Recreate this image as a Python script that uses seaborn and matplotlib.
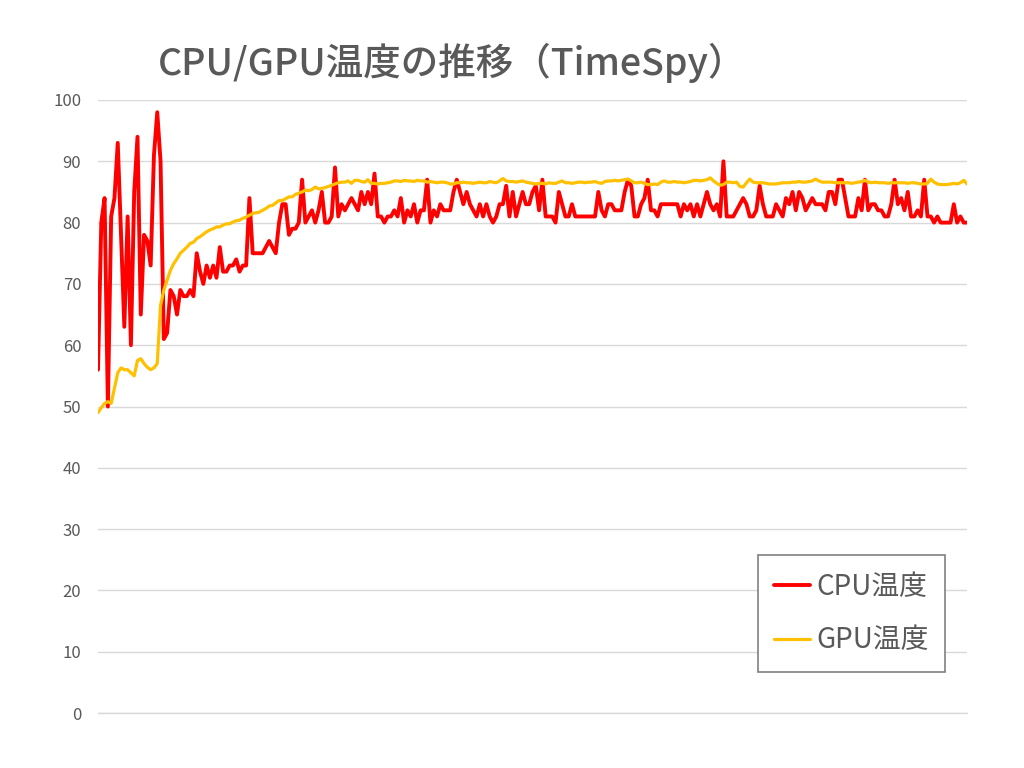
import numpy as np
import pandas as pd
import matplotlib
matplotlib.use("Agg")
import matplotlib.pyplot as plt
import seaborn as sns

# --- дані ---
cpu_temp = [
    56, 80, 84, 50, 81, 84, 93, 78, 63, 81, 60, 85, 94, 65, 78, 77, 73, 91, 98, 90,
    61, 62, 69, 68, 65, 69, 68, 68, 69, 68,
    75, 72, 70, 73, 71, 73, 71, 76, 72, 72,
    73, 73, 74, 72, 73, 73,
    84, 75, 75, 75, 75, 76, 77, 76, 75,
    80, 83, 83, 78, 79, 79, 80,
    87, 80, 81, 82, 80, 82, 85, 80, 80, 81,
    89, 81, 83, 82, 83, 84, 83, 82, 85,
    83, 85, 83, 88, 81, 81, 80, 81, 81, 82,
    81, 84, 80, 82, 81, 83, 80, 82, 82, 87,
    80, 82, 81, 83, 82, 82, 82, 85, 87, 85,
    83, 85, 83, 82, 81, 83, 81, 83, 81, 80,
    81, 83, 83, 86, 81, 85, 81, 83, 85, 83,
    83, 85, 86, 82, 87, 81, 81, 81, 80, 85, 83,
    81, 81, 83, 81, 81, 81, 81, 81, 81, 81,
    85, 82, 81, 83, 83, 82, 82, 82, 85, 87,
    86, 81, 81, 83, 84, 87, 82, 82, 81, 83,
    83, 83, 83, 83, 83, 81, 83, 82, 83, 81,
    83, 81, 83, 85, 83, 82, 83, 81, 90, 81,
    81, 81, 82, 83, 84, 83, 81, 81, 82, 86,
    83, 81, 81, 81, 83, 82, 81, 84, 83, 85,
    82, 85, 84, 82, 83, 84, 83, 83, 83, 82,
    85, 85, 83, 87, 87, 84, 81, 81, 81, 84,
    82, 87, 82, 83, 83, 82, 82, 81, 81, 83,
    87, 83, 84, 82, 85, 81, 81, 82, 81, 87,
    81, 81, 80, 81, 80, 80, 80, 80, 83, 80, 81, 80, 80,
]

gpu_temp = [
    49, 49.8, 50.5, 50.8, 50.5, 53, 55.5, 56.3, 56, 56,
    55.5, 55, 57.5, 57.8, 57, 56.4, 56, 56.3, 57, 66.5,
    69, 70.6, 72.2, 73.3, 74.1, 75, 75.5, 76, 76.6, 76.8,
    77.4, 77.7, 78.1, 78.5, 78.8, 79, 79.3, 79.3, 79.6, 79.8,
    79.8, 80.1, 80.3, 80.4, 80.7, 80.9, 81.2, 81.5, 81.6, 81.7,
    82, 82.3, 82.7, 82.8, 83.2, 83.6, 83.6, 83.9, 84.2, 84.2,
    84.6, 84.8, 85, 85.3, 85.2, 85.4, 85.8, 85.5, 85.6, 85.7,
    85.9, 86.1, 86.3, 86.5, 86.6, 86.6, 86.8, 86.4, 86.9, 86.9, 86.7,
    86.6, 87.0, 86.4, 86.4, 86.3, 86.4, 86.4, 86.5, 86.6, 86.8,
    86.8, 86.7, 86.9, 86.8, 86.8, 86.7, 86.9, 86.8, 86.8, 86.6,
    86.7, 86.6, 86.5, 86.6, 86.6, 86.5, 86.3, 86.3, 86.5, 86.5,
    86.6, 86.5, 86.5, 86.4, 86.5, 86.6, 86.5, 86.5, 86.7, 86.6,
    86.5, 86.8, 87.2, 86.8, 86.7, 86.7, 86.6, 86.7, 86.8, 86.6,
    86.5, 86.4, 86.3, 86.4, 86.4, 86.3, 86.5, 86.4, 86.4, 86.6, 86.8,
    86.5, 86.5, 86.4, 86.5, 86.6, 86.6, 86.5, 86.6, 86.6, 86.7,
    86.5, 86.4, 86.7, 86.8, 86.8, 86.9, 86.8, 86.9, 87.0, 87.1,
    86.8, 86.5, 86.5, 86.6, 86.4, 86.2, 86.2, 86.3, 86.2, 86.6,
    86.8, 86.6, 86.6, 86.7, 86.6, 86.6, 86.5, 86.6, 86.7, 86.9,
    86.9, 86.8, 86.9, 87.0, 87.3, 86.8, 86.4, 86.1, 86.2, 86.6,
    86.6, 86.5, 86.6, 85.9, 85.8, 86.5, 87.1, 86.6, 86.5, 86.5,
    86.5, 86.4, 86.3, 86.3, 86.3, 86.4, 86.5, 86.5, 86.5, 86.6,
    86.6, 86.7, 86.6, 86.6, 86.7, 86.8, 87.1, 86.8, 86.6, 86.6,
    86.6, 86.6, 86.5, 86.5, 86.5, 86.5, 86.5, 86.4, 86.5, 86.6,
    86.7, 86.9, 86.6, 86.5, 86.6, 86.5, 86.5, 86.5, 86.4, 86.5,
    86.5, 86.5, 86.5, 86.5, 86.4, 86.5, 86.5, 86.4, 86.3, 86.3,
    86.4, 87.1, 86.6, 86.3, 86.2, 86.2, 86.2, 86.3, 86.4, 86.3, 86.5, 86.9, 86.3,
]

y_ticks = [0, 10, 20, 30, 40, 50, 60, 70, 80, 90, 100]
series_names = ["CPU温度", "GPU温度"]

n = min(len(cpu_temp), len(gpu_temp))
df = pd.DataFrame({"t": np.arange(n), "cpu": cpu_temp[:n], "gpu": gpu_temp[:n]})

sns.set_theme(style="white")
plt.rcParams["font.family"] = ["Noto Sans CJK JP", "DejaVu Sans"]

text_gray = "#595959"
fig = plt.figure(figsize=(10.24, 7.68), dpi=100)
ax = fig.add_axes([98 / 1024, 1 - 713 / 768, (967 - 98) / 1024, (713 - 100) / 768])

sns.lineplot(data=df, x="t", y="cpu", ax=ax, color="#FF0000", linewidth=2.8, label=series_names[0])
sns.lineplot(data=df, x="t", y="gpu", ax=ax, color="#FFC000", linewidth=2.3, label=series_names[1])

ax.set_xlim(0, n - 1)
ax.set_ylim(0, 100)
ax.set_yticks(y_ticks)
ax.set_yticklabels([str(v) for v in y_ticks], color=text_gray, fontsize=12)
ax.set_xticks([])
ax.set_xlabel("")
ax.set_ylabel("")
ax.tick_params(axis="y", length=0, pad=12)
ax.grid(axis="y", color="#D9D9D9", linewidth=1)
ax.axhline(0, color="#D9D9D9", linewidth=1, clip_on=False, zorder=0)
ax.set_axisbelow(True)
for s in ax.spines.values():
    s.set_visible(False)

fig.text(158 / 1024, 1 - 63 / 768, "CPU/GPU温度の推移（TimeSpy）", fontsize=27,
         color=text_gray, fontweight="medium", ha="left", va="center")

ax.legend_.remove()
h, l = ax.get_legend_handles_labels()
leg = fig.legend(h, l, loc="lower right", bbox_to_anchor=(945 / 1024, 1 - 672 / 768),
                 borderaxespad=0, fontsize=20, frameon=True, fancybox=False, framealpha=1,
                 edgecolor="#808080", handlelength=1.3, handletextpad=0.2,
                 labelspacing=0.85, borderpad=0.6)
leg.get_frame().set_linewidth(1.2)
for t in leg.get_texts():
    t.set_color(text_gray)

fig.savefig("out.png", dpi=100)
